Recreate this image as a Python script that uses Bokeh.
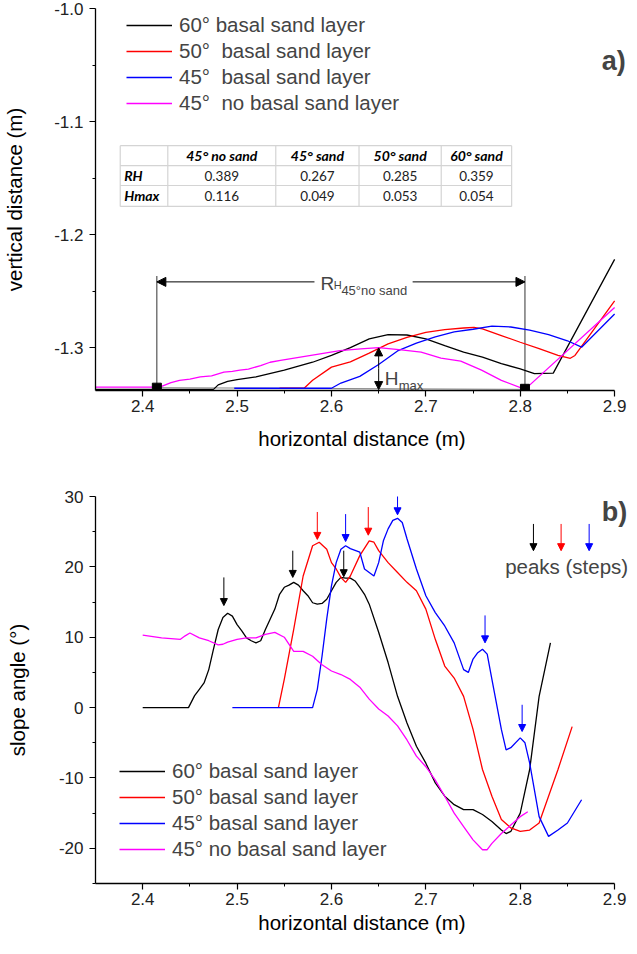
from bokeh.plotting import figure
from bokeh.models import (Legend, LegendItem, Label, Arrow, NormalHead, Range1d,
                          FixedTicker, PrintfTickFormatter)
from bokeh.layouts import column
from bokeh.embed import file_html
from bokeh.resources import INLINE
from bokeh.core.properties import value

FONT = "Liberation Sans"
TFONT = "Lato"

# ---------------- data: panel a (profiles) ----------------
names_a = ["60° basal sand layer", "50°  basal sand layer", "45°  basal sand layer", "45°  no basal sand layer"]
names_b = ["60° basal sand layer", "50° basal sand layer", "45° basal sand layer", "45° no basal sand layer"]
colors = ["black", "red", "blue", "magenta"]

x_ticks = [2.4, 2.5, 2.6, 2.7, 2.8, 2.9]
x_minor = [2.45, 2.55, 2.65, 2.75, 2.85]
ya_ticks = [-1.3, -1.2, -1.1, -1.0]
ya_minor = [-1.25, -1.15, -1.05]
yb_ticks = [-20, -10, 0, 10, 20, 30]
yb_minor = [-25, -15, -5, 5, 15, 25]

black_a_x = [2.35, 2.475, 2.48, 2.49, 2.50, 2.52, 2.55, 2.58, 2.60, 2.62, 2.64, 2.66, 2.68, 2.70, 2.72,
             2.74, 2.76, 2.78, 2.80, 2.815, 2.835, 2.90]
black_a_y = [-1.337, -1.337, -1.333, -1.330, -1.3284, -1.326, -1.320, -1.313, -1.307, -1.300, -1.2923,
             -1.2886, -1.2889, -1.2923, -1.2982, -1.304, -1.3085, -1.3143, -1.3188, -1.3231, -1.3226, -1.222]

red_a_x = [2.545, 2.571, 2.58, 2.60, 2.62, 2.64, 2.66, 2.68, 2.70, 2.72, 2.74, 2.751, 2.76, 2.78, 2.80,
           2.82, 2.84, 2.853, 2.858, 2.90]
red_a_y = [-1.336, -1.336, -1.329, -1.3173, -1.3126, -1.305, -1.2967, -1.291, -1.2865, -1.2842, -1.2827,
           -1.2821, -1.2835, -1.2894, -1.2953, -1.301, -1.307, -1.3095, -1.307, -1.2587]

blue_a_x = [2.497, 2.60, 2.61, 2.63, 2.65, 2.67, 2.69, 2.71, 2.73, 2.75, 2.77, 2.79, 2.81, 2.83, 2.85,
            2.865, 2.90]
blue_a_y = [-1.336, -1.336, -1.3314, -1.3255, -1.3150, -1.3030, -1.2960, -1.2905, -1.2862, -1.2838,
            -1.2810, -1.2818, -1.2845, -1.2885, -1.2940, -1.2997, -1.2703]

mag_a_x = [2.35, 2.418, 2.43, 2.439, 2.45, 2.461, 2.473, 2.486, 2.495, 2.503, 2.512, 2.525, 2.535,
           2.546, 2.567, 2.588, 2.609, 2.631, 2.65, 2.674, 2.695, 2.716, 2.737, 2.759, 2.78, 2.805, 2.90]
mag_a_y = [-1.335, -1.335, -1.331, -1.329, -1.328, -1.326, -1.325, -1.3217, -1.321, -1.320, -1.319,
           -1.316, -1.313, -1.3114, -1.3085, -1.3056, -1.3027, -1.3011, -1.300, -1.302, -1.304, -1.3094,
           -1.312, -1.320, -1.329, -1.337, -1.2645]

# table
table_cols = ["", "45° no sand", "45° sand", "50° sand", "60° sand"]
rh_values = ["0.389", "0.267", "0.285", "0.359"]
hmax_values = ["0.116", "0.049", "0.053", "0.054"]
row_names = ["RH", "Hmax"]

# ---------------- data: panel b (slope angle) ----------------
black_b_x = [2.40, 2.4485, 2.455, 2.46, 2.465, 2.47, 2.475, 2.48, 2.485, 2.49, 2.495, 2.50, 2.505, 2.51,
             2.515, 2.52, 2.525, 2.53, 2.54, 2.545, 2.55, 2.555, 2.56, 2.565, 2.57, 2.575, 2.58, 2.585,
             2.59, 2.595, 2.60, 2.605, 2.61, 2.615, 2.62, 2.625, 2.63, 2.635, 2.64, 2.65, 2.66, 2.67,
             2.68, 2.69, 2.70, 2.71, 2.72, 2.73, 2.74, 2.75, 2.76, 2.77, 2.78, 2.785, 2.79, 2.80, 2.81,
             2.82, 2.832]
black_b_y = [0.0, 0.0, 1.7, 2.6, 3.5, 5.4, 8.3, 11.1, 12.8, 13.4, 13.0, 11.8, 10.9, 9.9, 9.5, 9.2, 9.5,
             11.1, 14.0, 16.1, 17.1, 17.4, 17.8, 17.4, 16.6, 15.9, 14.9, 14.7, 14.8, 15.4, 16.6, 17.8,
             18.5, 18.4, 18.4, 18.0, 17.1, 16.1, 14.7, 10.7, 6.4, 1.6, -2.2, -5.5, -7.9, -10.7, -12.6,
             -13.8, -14.5, -14.5, -15.2, -16.2, -17.4, -17.9, -17.6, -15.0, -8.8, 1.6, 9.2]

red_b_x = [2.5438, 2.55, 2.56, 2.57, 2.58, 2.587, 2.595, 2.60, 2.605, 2.61, 2.615, 2.62, 2.63, 2.64,
           2.645, 2.65, 2.66, 2.67, 2.68, 2.69, 2.70, 2.71, 2.72, 2.73, 2.74, 2.75, 2.76, 2.77, 2.78,
           2.79, 2.80, 2.81, 2.82, 2.83, 2.84, 2.855]
red_b_y = [0.0, 4.0, 11.1, 18.7, 23.0, 23.5, 22.5, 20.6, 19.7, 18.5, 17.8, 18.7, 21.6, 23.7, 23.5, 22.3,
           20.6, 19.2, 17.8, 16.6, 14.0, 9.7, 5.9, 4.2, 1.6, -3.1, -8.8, -12.6, -15.9, -17.1, -17.6,
           -17.4, -16.4, -12.6, -8.8, -2.7]

blue_b_x = [2.495, 2.58, 2.585, 2.59, 2.595, 2.60, 2.605, 2.61, 2.615, 2.62, 2.63, 2.635, 2.64, 2.645,
            2.65, 2.655, 2.66, 2.665, 2.67, 2.675, 2.68, 2.69, 2.70, 2.71, 2.72, 2.73, 2.74, 2.745,
            2.75, 2.755, 2.76, 2.765, 2.77, 2.78, 2.785, 2.79, 2.80, 2.805, 2.81, 2.82, 2.83, 2.84,
            2.85, 2.865]
blue_b_y = [0.0, 0.0, 2.6, 7.3, 12.6, 17.3, 20.6, 22.5, 23.0, 22.6, 22.1, 19.7, 19.2, 18.7, 20.6, 23.7,
            25.4, 26.6, 26.9, 26.3, 24.0, 19.7, 15.9, 13.5, 11.6, 9.2, 5.4, 5.0, 6.9, 7.8, 8.3, 7.6,
            4.0, -3.1, -6.0, -5.7, -4.3, -5.0, -7.9, -15.5, -18.3, -17.4, -16.4, -13.1]

mag_b_x = [2.40, 2.42, 2.44, 2.445, 2.45, 2.46, 2.47, 2.48, 2.485, 2.49, 2.50, 2.51, 2.52, 2.53, 2.54,
           2.55, 2.56, 2.57, 2.58, 2.59, 2.60, 2.61, 2.62, 2.63, 2.64, 2.65, 2.66, 2.67, 2.68, 2.69,
           2.70, 2.71, 2.72, 2.73, 2.74, 2.75, 2.76, 2.765, 2.77, 2.78, 2.79, 2.80, 2.808]
mag_b_y = [10.3, 9.9, 9.7, 10.2, 10.6, 9.9, 9.5, 8.9, 9.0, 9.3, 9.7, 9.9, 9.9, 10.4, 10.7, 10.0, 8.0,
           8.0, 7.3, 6.1, 5.2, 4.7, 4.0, 2.9, 1.2, -0.2, -1.2, -2.6, -4.6, -6.9, -8.4, -10.3, -12.6,
           -15.0, -16.9, -18.8, -20.2, -20.2, -19.3, -17.9, -16.7, -15.5, -14.8]

# peak arrows: x, top, tip, colour index
peak_x = [2.486, 2.559, 2.613, 2.585, 2.639, 2.615, 2.670, 2.7627, 2.802]
peak_top = [18.5, 22.3, 22.3, 27.8, 28.5, 27.5, 31.3, 13.1, 0.4]
peak_tip = [14.5, 18.5, 18.6, 23.9, 24.5, 23.6, 27.4, 9.2, -3.4]
peak_col = [0, 0, 0, 1, 1, 2, 2, 2, 2]
key_x = [2.814, 2.8433, 2.873]

X_END = 2.9147  # frame extends a little right of the axis end to leave room for a)/b)


def style(p, xlabel, ylabel, ylabel_standoff, xlabel_standoff, yt, ym, fmt):
    p.outline_line_color = None
    p.xgrid.visible = False
    p.ygrid.visible = False
    for ax in (p.xaxis[0], p.yaxis[0]):
        ax.axis_line_width = 1.3
        ax.axis_line_color = "black"
        ax.major_tick_line_color = "black"
        ax.minor_tick_line_color = "black"
        ax.major_tick_line_width = 1.2
        ax.minor_tick_line_width = 1.0
        ax.major_tick_in = 0
        ax.major_tick_out = 6
        ax.minor_tick_in = 0
        ax.minor_tick_out = 3
        ax.major_label_text_font = FONT
        ax.major_label_text_font_size = "17px"
        ax.major_label_text_color = "#222222"
        ax.axis_label_text_font = FONT
        ax.axis_label_text_font_size = "20.5px"
        ax.axis_label_text_font_style = "normal"
        ax.axis_label_text_color = "black"
    p.xaxis[0].bounds = (2.35, 2.9)
    p.xaxis[0].axis_label = xlabel
    p.yaxis[0].axis_label = ylabel
    p.xaxis[0].major_label_standoff = 3
    p.yaxis[0].major_label_standoff = 6
    p.yaxis[0].axis_label_standoff = ylabel_standoff
    p.xaxis[0].axis_label_standoff = xlabel_standoff
    p.xaxis[0].ticker = FixedTicker(ticks=x_ticks, minor_ticks=x_minor)
    p.xaxis[0].formatter = PrintfTickFormatter(format="%.1f")
    p.yaxis[0].ticker = FixedTicker(ticks=yt, minor_ticks=ym)
    p.yaxis[0].formatter = PrintfTickFormatter(format=fmt)


def legend(p, renderers, labels, loc, spacing):
    items = [LegendItem(label=l, renderers=[r]) for l, r in zip(labels, renderers)]
    lg = Legend(items=items, location=loc, padding=0, margin=0, spacing=spacing,
                glyph_width=46, glyph_height=20, label_standoff=7,
                label_text_font=FONT, label_text_font_size="20.5px",
                border_line_alpha=0, background_fill_alpha=0)
    p.add_layout(lg)


# ---------------- panel a ----------------
p1 = figure(width=628, height=466, x_range=Range1d(2.35, X_END), y_range=Range1d(-1.338, -1.0),
            output_backend="svg", toolbar_location=None,
            min_border_left=90, min_border_right=0, min_border_top=8, min_border_bottom=76)
style(p1, "horizontal distance (m)", "vertical distance (m)", 25, 12, ya_ticks, ya_minor, "%.1f")

# R_H construction
xl, xr = 2.415, 2.805
p1.segment(x0=[xl, xr], y0=[-1.3355, -1.3365], x1=[xl, xr], y1=[-1.2367, -1.2367],
           line_color="#333333", line_width=1)
p1.segment(x0=[xl], y0=[-1.3355], x1=[xr], y1=[-1.337], line_color="#888888", line_width=1)
p1.add_layout(Arrow(x_start=2.582, y_start=-1.2419, x_end=xl, y_end=-1.2419, line_width=1,
                    end=NormalHead(size=9, fill_color="black", line_color="black")))
p1.add_layout(Arrow(x_start=2.686, y_start=-1.2419, x_end=xr, y_end=-1.2419, line_width=1,
                    end=NormalHead(size=9, fill_color="black", line_color="black")))
p1.add_layout(Arrow(x_start=2.65, y_start=-1.3185, x_end=2.65, y_end=-1.3003, line_width=1,
                    end=NormalHead(size=8, fill_color="black", line_color="black")))
p1.add_layout(Arrow(x_start=2.65, y_start=-1.3185, x_end=2.65, y_end=-1.3372, line_width=1,
                    end=NormalHead(size=8, fill_color="black", line_color="black")))

r_a = []
for xs, ys, c in [(black_a_x, black_a_y, colors[0]), (red_a_x, red_a_y, colors[1]),
                  (blue_a_x, blue_a_y, colors[2]), (mag_a_x, mag_a_y, colors[3])]:
    r_a.append(p1.line(xs, ys, line_color=c, line_width=1.3))

p1.scatter([xl, xr], [-1.3355, -1.3365], marker="square", size=9, color="black")

p1.add_layout(Label(x=2.5885, y=-1.2437, text="R", text_font=FONT, text_font_size="19px",
                    text_baseline="alphabetic"))
p1.add_layout(Label(x=2.6025, y=-1.2445, text="H", text_font=FONT, text_font_size="11px",
                    text_baseline="alphabetic"))
p1.add_layout(Label(x=2.6105, y=-1.2498, text="45°no sand", text_font=FONT, text_font_size="13px",
                    text_baseline="alphabetic"))
p1.add_layout(Label(x=2.6565, y=-1.3273, text="H", text_font=FONT, text_font_size="19px",
                    text_baseline="alphabetic"))
p1.add_layout(Label(x=2.6712, y=-1.3334, text="max", text_font=FONT, text_font_size="13px",
                    text_baseline="alphabetic"))

# table
tx = [2.3762, 2.4266, 2.541, 2.6292, 2.7163, 2.7909]
ty = [-1.1214, -1.1390, -1.1566, -1.1751]
p1.quad(left=tx[0], right=tx[-1], top=ty[0], bottom=ty[-1], fill_color="white", line_color=None)
p1.segment(x0=[tx[0]] * 4, y0=ty, x1=[tx[-1]] * 4, y1=ty, line_color="#d4d4d4", line_width=1.2)
p1.segment(x0=tx, y0=[ty[0]] * 6, x1=tx, y1=[ty[-1]] * 6, line_color="#d4d4d4", line_width=1.2)
cx = [(tx[i] + tx[i + 1]) / 2 for i in range(1, 5)]
cy = [(ty[i] + ty[i + 1]) / 2 for i in range(3)]
p1.text(x=cx, y=[cy[0]] * 4, text=table_cols[1:], text_font=value(TFONT), text_font_size="14px",
        text_font_style="bold italic", text_align="center", text_baseline="middle", text_color="black")
p1.text(x=cx, y=[cy[1]] * 4, text=rh_values, text_font=value(TFONT), text_font_size="13.5px",
        text_align="center", text_baseline="middle", text_color="#222222")
p1.text(x=cx, y=[cy[2]] * 4, text=hmax_values, text_font=value(TFONT), text_font_size="13.5px",
        text_align="center", text_baseline="middle", text_color="#222222")
p1.text(x=[2.3804, 2.3804], y=[cy[1], cy[2]], text=row_names, text_font=value(TFONT),
        text_font_size="14px", text_font_style="bold italic", text_align="left",
        text_baseline="middle", text_color="black")

legend(p1, r_a, names_a, (31, 275), 2)
p1.add_layout(Label(x=2.8864, y=-1.0466, text="a)", text_font=FONT, text_font_size="27px",
                    text_font_style="bold", text_baseline="alphabetic"))

# ---------------- panel b ----------------
p2 = figure(width=628, height=472, x_range=Range1d(2.35, X_END), y_range=Range1d(-25, 30),
            output_backend="svg", toolbar_location=None,
            min_border_left=90, min_border_right=0, min_border_top=30, min_border_bottom=55)
style(p2, "horizontal distance (m)", "slope angle (°)", 27, 3, yb_ticks, yb_minor, "%d")

r_b = []
for xs, ys, c in [(black_b_x, black_b_y, colors[0]), (red_b_x, red_b_y, colors[1]),
                  (blue_b_x, blue_b_y, colors[2]), (mag_b_x, mag_b_y, colors[3])]:
    r_b.append(p2.line(xs, ys, line_color=c, line_width=1.3))

for x, t, e, ci in zip(peak_x, peak_top, peak_tip, peak_col):
    c = colors[ci]
    p2.add_layout(Arrow(x_start=x, y_start=t, x_end=x, y_end=e, line_color=c, line_width=1,
                        end=NormalHead(size=7, fill_color=c, line_color=c)))
for x, ci in zip(key_x, [0, 1, 2]):
    c = colors[ci]
    p2.add_layout(Arrow(x_start=x, y_start=26.1, x_end=x, y_end=22.3, line_color=c, line_width=1,
                        end=NormalHead(size=7, fill_color=c, line_color=c)))
p2.add_layout(Label(x=2.784, y=20.1, text="peaks (steps)", text_font=FONT, text_font_size="20.5px",
                    text_baseline="middle"))
p2.add_layout(Label(x=2.8864, y=27.73, text="b)", text_font=FONT, text_font_size="27px",
                    text_font_style="bold", text_baseline="alphabetic"))

legend(p2, r_b, names_b, (24, 22), 2)

layout = column(p1, p2)
open("out.html", "w").write(file_html(layout, INLINE))
